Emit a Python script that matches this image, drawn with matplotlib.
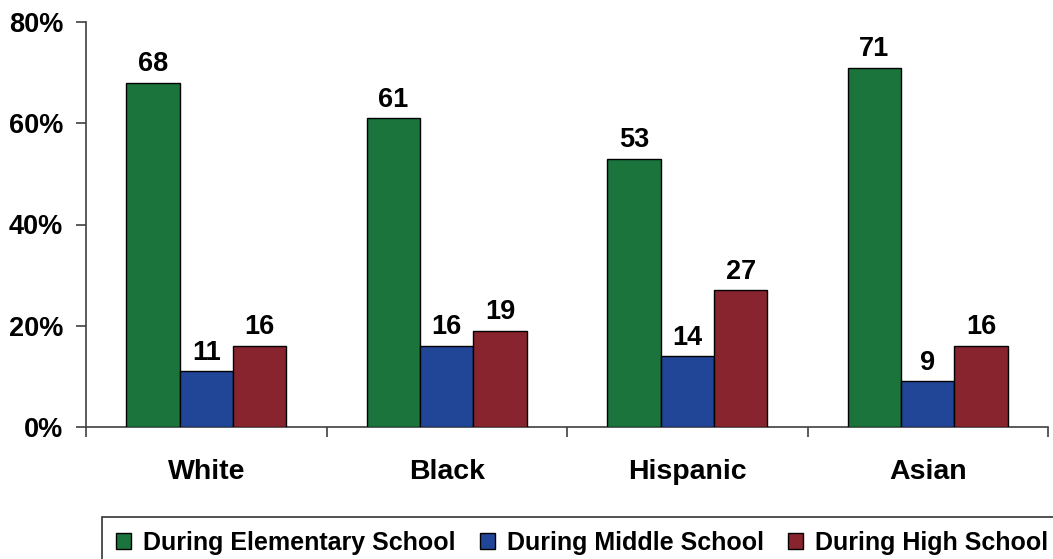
import matplotlib
matplotlib.use("Agg")
import matplotlib.pyplot as plt
import numpy as np

categories = ["White", "Black", "Hispanic", "Asian"]
series_names = ["During Elementary School", "During Middle School", "During High School"]
elementary = [68, 61, 53, 71]
middle = [11, 16, 14, 9]
high = [16, 19, 27, 16]
colors = ["#1A743C", "#214597", "#88242E"]
yticks = [0, 20, 40, 60, 80]
ytick_labels = ["0%", "20%", "40%", "60%", "80%"]

plt.rcParams['font.family'] = ['Liberation Sans', 'DejaVu Sans']
plt.rcParams['font.weight'] = 'bold'

W, H = 1053, 559
fig = plt.figure(figsize=(W / 100, H / 100), dpi=100)
ax = fig.add_axes([86 / W, 1 - 427 / H, (1048 - 86) / W, (427 - 22) / H])

x = np.arange(len(categories))
bw = 0.222
spine_c = "#404040"
for i, (vals, name) in enumerate(zip([elementary, middle, high], series_names)):
    pos = x + (i - 1) * bw
    ax.bar(pos, vals, width=bw, color=colors[i], edgecolor="black",
           linewidth=1.0, label=name, zorder=3)
    for xb, v in zip(pos, vals):
        ax.annotate(str(v), (xb, v), xytext=(0, 4), textcoords="offset points",
                    ha="center", va="bottom", fontsize=19.5, fontweight="bold")

ax.set_xlim(-0.5, len(categories) - 0.5)
ax.set_ylim(0, 80)
ax.set_yticks(yticks)
ax.set_yticklabels(ytick_labels, fontsize=19.5, fontweight="bold")
ax.set_xticks(np.arange(-0.5, len(categories), 1.0))
ax.set_xticklabels([])
ax.set_xticks(x, minor=True)
ax.set_xticklabels(categories, minor=True, fontsize=20.5, fontweight="bold")
ax.tick_params(axis="x", which="major", direction="out", length=7.5, width=1.2, color=spine_c)
ax.tick_params(axis="x", which="minor", length=0, pad=23)
ax.tick_params(axis="y", direction="out", length=7.5, width=1.2, color=spine_c, pad=9)

for s in ["top", "right"]:
    ax.spines[s].set_visible(False)
for s in ["left", "bottom"]:
    ax.spines[s].set_color(spine_c)
    ax.spines[s].set_linewidth(1.2)

leg = fig.legend(loc="upper left", bbox_to_anchor=(102 / W, 1 - 517 / H), ncol=3,
                 frameon=True, fancybox=False, edgecolor="black",
                 prop={"weight": "bold", "size": 18},
                 handlelength=0.6, handleheight=0.6, handletextpad=0.5,
                 columnspacing=0.95, borderpad=0.55, borderaxespad=0)
leg.get_frame().set_linewidth(1.2)
for h in leg.legend_handles:
    h.set_edgecolor("black")
    h.set_linewidth(1.0)

fig.savefig("out.png", dpi=100)
